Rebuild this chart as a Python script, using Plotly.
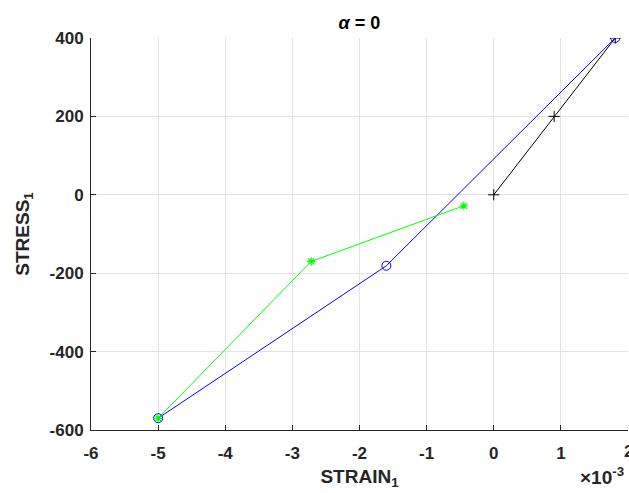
import plotly.graph_objects as go

# Loading path segments (strain, stress)
load_strain = [0.0, 0.0009, 0.00181]
load_stress = [0, 200, 400]

unload_strain = [0.00181, -0.0016, -0.005]
unload_stress = [400, -181, -570]

reload_strain = [-0.005, -0.00272, -0.000446]
reload_stress = [-570, -170, -28]

x_ticks = [-6, -5, -4, -3, -2, -1, 0, 1, 2]
y_ticks = [-600, -400, -200, 0, 200, 400]

SCALE = 1e3  # axis shows strain in units of 1e-3

FONT = "Liberation Sans"
TICK_FONT = dict(family=FONT, size=17, color="#262626", weight="bold")

fig = go.Figure()

fig.add_trace(go.Scatter(
    x=[v * SCALE for v in load_strain], y=load_stress,
    mode="lines+markers",
    line=dict(color="black", width=1),
    marker=dict(symbol="cross-thin", size=8, line=dict(color="black", width=1)),
))
fig.add_trace(go.Scatter(
    x=[v * SCALE for v in unload_strain], y=unload_stress,
    mode="lines+markers",
    line=dict(color="#0000ff", width=1),
    marker=dict(symbol="circle-open", size=9, color="#0000ff", line=dict(width=1)),
))
fig.add_trace(go.Scatter(
    x=[v * SCALE for v in reload_strain], y=reload_stress,
    mode="lines+markers",
    line=dict(color="#00ff00", width=1),
    marker=dict(symbol="asterisk-open", size=7, color="#00ff00", line=dict(color="#00ff00", width=1.2)),
))

axis_common = dict(
    showgrid=True, gridcolor="#e3e3e3", gridwidth=1,
    showline=True, linecolor="#262626", linewidth=1,
    ticks="inside", ticklen=5, tickcolor="#262626",
    zeroline=False, mirror=False,
    tickfont=TICK_FONT,
)

# the last x tick label sits on the figure edge; draw it as a free label
x_ticktext = [str(t) for t in x_ticks[:-1]] + [""]

fig.update_layout(
    width=629, height=493,
    margin=dict(l=91, r=1, t=38, b=63),
    paper_bgcolor="white", plot_bgcolor="white",
    showlegend=False,
    title=dict(
        text="<i>α</i>\u00a0=\u00a00",
        x=0.5715, xanchor="center",
        y=1 - 23 / 493, yanchor="middle",
        font=dict(family=FONT, size=18, color="black", weight="bold"),
    ),
    xaxis=dict(
        range=[-6, 2], tickvals=x_ticks, ticktext=x_ticktext,
        ticklabelstandoff=8,
        title=dict(text="STRAIN<sub>1</sub>", standoff=7,
                   font=dict(family=FONT, size=19, color="#262626", weight="bold")),
        **axis_common,
    ),
    yaxis=dict(
        range=[-600, 400], tickvals=y_ticks, ticktext=[str(t) for t in y_ticks],
        ticklabelstandoff=3,
        title=dict(text="STRESS<sub>1</sub>", standoff=14,
                   font=dict(family=FONT, size=19, color="#262626", weight="bold")),
        **axis_common,
    ),
    annotations=[
        dict(
            text=str(x_ticks[-1]), xref="x", yref="paper",
            x=x_ticks[-1], y=-0.0536, xanchor="center", yanchor="middle",
            showarrow=False, font=TICK_FONT,
        ),
        dict(
            text="×10<sup>-3</sup>", xref="paper", yref="paper",
            x=0.997, y=-0.118, xanchor="right", yanchor="middle", showarrow=False,
            font=dict(family=FONT, size=19, color="#262626", weight="bold"),
        ),
    ],
)

fig.write_html("out.html")
